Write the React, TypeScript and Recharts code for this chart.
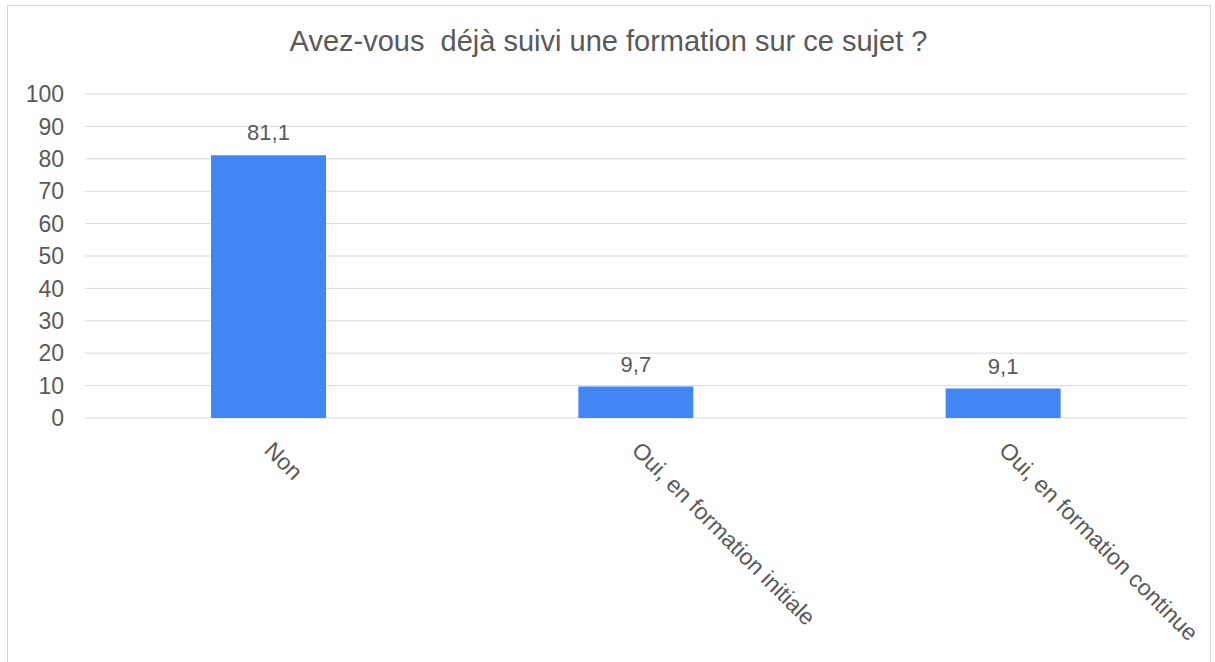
import React from 'react';
import { BarChart, Bar, XAxis, YAxis, CartesianGrid, LabelList } from 'recharts';

const categories = ['Non', 'Oui, en formation initiale', 'Oui, en formation continue'];
const percentages = [81.1, 9.7, 9.1];
const yTicks = [0, 10, 20, 30, 40, 50, 60, 70, 80, 90, 100];

const chartData = categories.map((name, i) => ({ name, value: percentages[i] }));

const FONT = '"Liberation Sans", Arial, sans-serif';
const TEXT = '#595959';

const AngledTick = (props: any) => {
  const { x, y, payload } = props;
  const px = x + 6;
  return (
    <text
      x={px}
      y={y}
      transform={`rotate(45, ${px}, ${y})`}
      dy="0.71em"
      textAnchor="start"
      fill={TEXT}
      fontSize={23}
      fontFamily={FONT}
    >
      {payload.value}
    </text>
  );
};

const App: React.FC = () => {
  return (
    <div style={{ position: 'absolute', left: 0, top: 0, width: 1215, height: 662, background: '#fff', overflow: 'hidden' }}>
      <div
        style={{
          position: 'absolute',
          left: 7,
          top: 5,
          width: 1204,
          height: 660,
          border: '1px solid #d9d9d9',
          boxSizing: 'border-box',
        }}
      />
      <div
        style={{
          position: 'absolute',
          left: 0,
          top: 25,
          width: 1217,
          textAlign: 'center',
          fontFamily: FONT,
          fontSize: 29,
          color: TEXT,
          whiteSpace: 'pre',
        }}
      >
        {'Avez-vous  déjà suivi une formation sur ce sujet ?'}
      </div>
      <div style={{ position: 'absolute', left: 0, top: 0 }}>
        <BarChart width={1215} height={662} data={chartData} margin={{ top: 94, right: 28, bottom: 0, left: 0 }}>
          <CartesianGrid vertical={false} stroke="#d9d9d9" strokeWidth={1} />
          <XAxis
            dataKey="name"
            axisLine={false}
            tickLine={false}
            interval={0}
            height={244}
            tickMargin={16}
            tick={<AngledTick />}
          />
          <YAxis
            type="number"
            domain={[0, 100]}
            ticks={yTicks}
            width={85}
            axisLine={false}
            tickLine={false}
            tickMargin={15}
            tick={{ fill: TEXT, fontSize: 23, fontFamily: FONT }}
          />
          <Bar dataKey="value" fill="#4285f4" barSize={115} isAnimationActive={false}>
            <LabelList
              dataKey="value"
              position="top"
              offset={15}
              fill={TEXT}
              fontSize={22}
              fontFamily={FONT}
              formatter={(v: any) => String(v).replace('.', ',')}
            />
          </Bar>
        </BarChart>
      </div>
    </div>
  );
};

export default App;
